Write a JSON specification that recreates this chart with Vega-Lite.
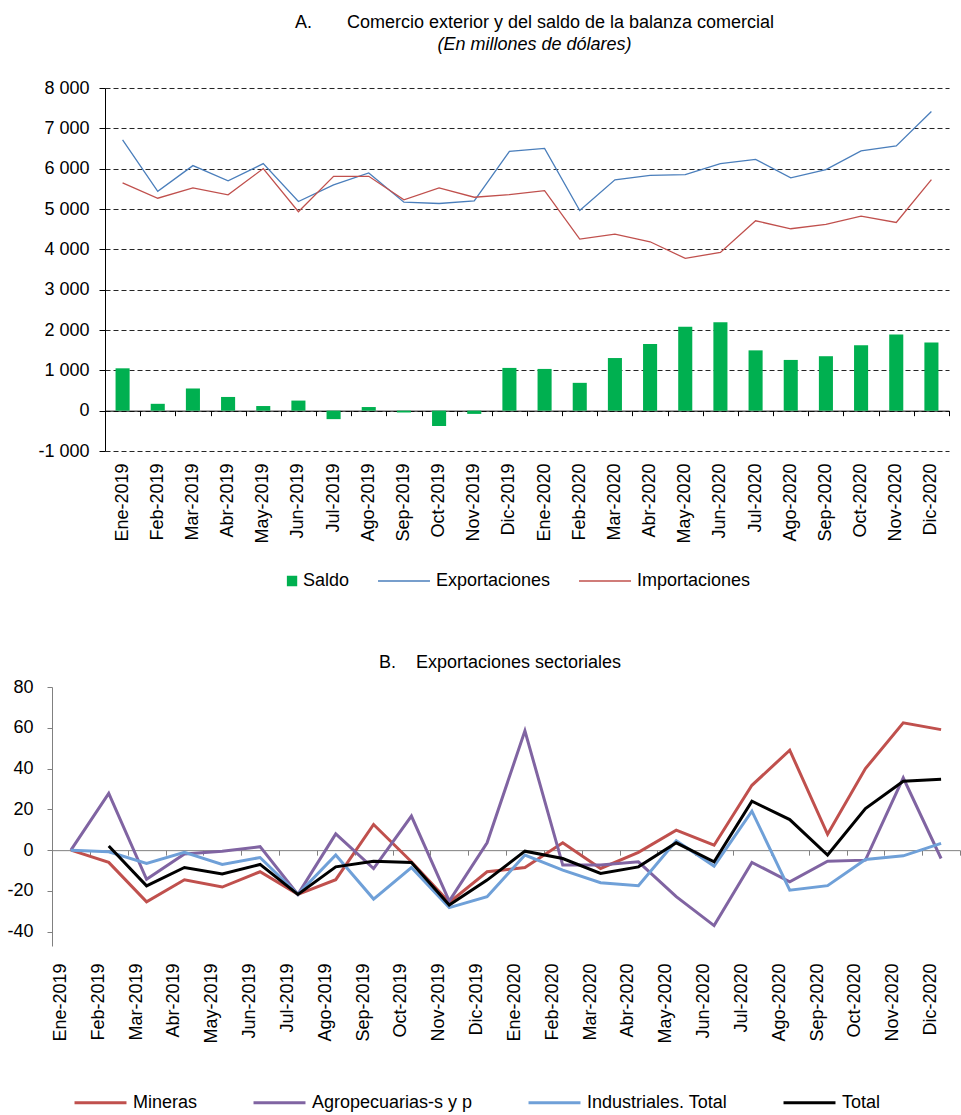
{
  "$schema": "https://vega.github.io/schema/vega-lite/v6.json",
  "padding": {"left": 0, "top": 14, "right": 0, "bottom": 0},
  "background": "white",
  "config": {
    "view": {"stroke": null},
    "font": "Liberation Sans",
    "axis": {"labelFont": "Liberation Sans", "labelFontSize": 18, "labelColor": "#000", "title": null},
    "legend": {"labelFont": "Liberation Sans", "labelFontSize": 18, "labelColor": "#000", "padding": 0, "labelLimit": 400},
    "title": {"font": "Liberation Sans", "fontSize": 18, "fontWeight": "normal", "color": "#000", "subtitleFont": "Liberation Sans", "subtitleFontSize": 18, "subtitleFontStyle": "italic", "subtitleColor": "#000", "anchor": "middle"}
  },
  "columns": 1,
  "spacing": 64,
  "resolve": {"scale": {"color": "independent"}, "legend": {"color": "independent"}},
  "datasets": {
    "saldo": [
      {"mes": "Ene-2019", "serie": "Saldo", "valor": 1050},
      {"mes": "Feb-2019", "serie": "Saldo", "valor": 170},
      {"mes": "Mar-2019", "serie": "Saldo", "valor": 550},
      {"mes": "Abr-2019", "serie": "Saldo", "valor": 340},
      {"mes": "May-2019", "serie": "Saldo", "valor": 115},
      {"mes": "Jun-2019", "serie": "Saldo", "valor": 250},
      {"mes": "Jul-2019", "serie": "Saldo", "valor": -210},
      {"mes": "Ago-2019", "serie": "Saldo", "valor": 90},
      {"mes": "Sep-2019", "serie": "Saldo", "valor": -45},
      {"mes": "Oct-2019", "serie": "Saldo", "valor": -380},
      {"mes": "Nov-2019", "serie": "Saldo", "valor": -80},
      {"mes": "Dic-2019", "serie": "Saldo", "valor": 1060},
      {"mes": "Ene-2020", "serie": "Saldo", "valor": 1035},
      {"mes": "Feb-2020", "serie": "Saldo", "valor": 690},
      {"mes": "Mar-2020", "serie": "Saldo", "valor": 1305},
      {"mes": "Abr-2020", "serie": "Saldo", "valor": 1650},
      {"mes": "May-2020", "serie": "Saldo", "valor": 2078},
      {"mes": "Jun-2020", "serie": "Saldo", "valor": 2190},
      {"mes": "Jul-2020", "serie": "Saldo", "valor": 1495},
      {"mes": "Ago-2020", "serie": "Saldo", "valor": 1258},
      {"mes": "Sep-2020", "serie": "Saldo", "valor": 1350},
      {"mes": "Oct-2020", "serie": "Saldo", "valor": 1625},
      {"mes": "Nov-2020", "serie": "Saldo", "valor": 1890},
      {"mes": "Dic-2020", "serie": "Saldo", "valor": 1690}
    ],
    "comercio": [
      {"mes": "Ene-2019", "serie": "Exportaciones", "valor": 6711},
      {"mes": "Feb-2019", "serie": "Exportaciones", "valor": 5440},
      {"mes": "Mar-2019", "serie": "Exportaciones", "valor": 6076},
      {"mes": "Abr-2019", "serie": "Exportaciones", "valor": 5697},
      {"mes": "May-2019", "serie": "Exportaciones", "valor": 6125},
      {"mes": "Jun-2019", "serie": "Exportaciones", "valor": 5186},
      {"mes": "Jul-2019", "serie": "Exportaciones", "valor": 5598},
      {"mes": "Ago-2019", "serie": "Exportaciones", "valor": 5895},
      {"mes": "Sep-2019", "serie": "Exportaciones", "valor": 5168},
      {"mes": "Oct-2019", "serie": "Exportaciones", "valor": 5136},
      {"mes": "Nov-2019", "serie": "Exportaciones", "valor": 5203},
      {"mes": "Dic-2019", "serie": "Exportaciones", "valor": 6430},
      {"mes": "Ene-2020", "serie": "Exportaciones", "valor": 6504},
      {"mes": "Feb-2020", "serie": "Exportaciones", "valor": 4963},
      {"mes": "Mar-2020", "serie": "Exportaciones", "valor": 5722},
      {"mes": "Abr-2020", "serie": "Exportaciones", "valor": 5836},
      {"mes": "May-2020", "serie": "Exportaciones", "valor": 5853},
      {"mes": "Jun-2020", "serie": "Exportaciones", "valor": 6125},
      {"mes": "Jul-2020", "serie": "Exportaciones", "valor": 6231},
      {"mes": "Ago-2020", "serie": "Exportaciones", "valor": 5771},
      {"mes": "Sep-2020", "serie": "Exportaciones", "valor": 5977},
      {"mes": "Oct-2020", "serie": "Exportaciones", "valor": 6439},
      {"mes": "Nov-2020", "serie": "Exportaciones", "valor": 6563},
      {"mes": "Dic-2020", "serie": "Exportaciones", "valor": 7418},
      {"mes": "Ene-2019", "serie": "Importaciones", "valor": 5648},
      {"mes": "Feb-2019", "serie": "Importaciones", "valor": 5267},
      {"mes": "Mar-2019", "serie": "Importaciones", "valor": 5524},
      {"mes": "Abr-2019", "serie": "Importaciones", "valor": 5351},
      {"mes": "May-2019", "serie": "Importaciones", "valor": 6002},
      {"mes": "Jun-2019", "serie": "Importaciones", "valor": 4931},
      {"mes": "Jul-2019", "serie": "Importaciones", "valor": 5811},
      {"mes": "Ago-2019", "serie": "Importaciones", "valor": 5811},
      {"mes": "Sep-2019", "serie": "Importaciones", "valor": 5227},
      {"mes": "Oct-2019", "serie": "Importaciones", "valor": 5524},
      {"mes": "Nov-2019", "serie": "Importaciones", "valor": 5292},
      {"mes": "Dic-2019", "serie": "Importaciones", "valor": 5358},
      {"mes": "Ene-2020", "serie": "Importaciones", "valor": 5457},
      {"mes": "Feb-2020", "serie": "Importaciones", "valor": 4253},
      {"mes": "Mar-2020", "serie": "Importaciones", "valor": 4377},
      {"mes": "Abr-2020", "serie": "Importaciones", "valor": 4188},
      {"mes": "May-2020", "serie": "Importaciones", "valor": 3776},
      {"mes": "Jun-2020", "serie": "Importaciones", "valor": 3924},
      {"mes": "Jul-2020", "serie": "Importaciones", "valor": 4708},
      {"mes": "Ago-2020", "serie": "Importaciones", "valor": 4510},
      {"mes": "Sep-2020", "serie": "Importaciones", "valor": 4617},
      {"mes": "Oct-2020", "serie": "Importaciones", "valor": 4822},
      {"mes": "Nov-2020", "serie": "Importaciones", "valor": 4666},
      {"mes": "Dic-2020", "serie": "Importaciones", "valor": 5729}
    ],
    "sectores": [
      {"mes": "Ene-2019", "serie": "Mineras", "valor": 0},
      {"mes": "Feb-2019", "serie": "Mineras", "valor": -6.0},
      {"mes": "Mar-2019", "serie": "Mineras", "valor": -25.3},
      {"mes": "Abr-2019", "serie": "Mineras", "valor": -14.5},
      {"mes": "May-2019", "serie": "Mineras", "valor": -18.1},
      {"mes": "Jun-2019", "serie": "Mineras", "valor": -10.6},
      {"mes": "Jul-2019", "serie": "Mineras", "valor": -21.7},
      {"mes": "Ago-2019", "serie": "Mineras", "valor": -14.5},
      {"mes": "Sep-2019", "serie": "Mineras", "valor": 12.6},
      {"mes": "Oct-2019", "serie": "Mineras", "valor": -5.7},
      {"mes": "Nov-2019", "serie": "Mineras", "valor": -25.6},
      {"mes": "Dic-2019", "serie": "Mineras", "valor": -10.6},
      {"mes": "Ene-2020", "serie": "Mineras", "valor": -8.5},
      {"mes": "Feb-2020", "serie": "Mineras", "valor": 3.6},
      {"mes": "Mar-2020", "serie": "Mineras", "valor": -9.0},
      {"mes": "Abr-2020", "serie": "Mineras", "valor": -1.1},
      {"mes": "May-2020", "serie": "Mineras", "valor": 9.8},
      {"mes": "Jun-2020", "serie": "Mineras", "valor": 2.4},
      {"mes": "Jul-2020", "serie": "Mineras", "valor": 31.8},
      {"mes": "Ago-2020", "serie": "Mineras", "valor": 49.0},
      {"mes": "Sep-2020", "serie": "Mineras", "valor": 7.8},
      {"mes": "Oct-2020", "serie": "Mineras", "valor": 40.0},
      {"mes": "Nov-2020", "serie": "Mineras", "valor": 62.4},
      {"mes": "Dic-2020", "serie": "Mineras", "valor": 59.1},
      {"mes": "Ene-2019", "serie": "Agropecuarias-s y p", "valor": 0},
      {"mes": "Feb-2019", "serie": "Agropecuarias-s y p", "valor": 27.8},
      {"mes": "Mar-2019", "serie": "Agropecuarias-s y p", "valor": -14.3},
      {"mes": "Abr-2019", "serie": "Agropecuarias-s y p", "valor": -1.9},
      {"mes": "May-2019", "serie": "Agropecuarias-s y p", "valor": -0.5},
      {"mes": "Jun-2019", "serie": "Agropecuarias-s y p", "valor": 1.7},
      {"mes": "Jul-2019", "serie": "Agropecuarias-s y p", "valor": -21.7},
      {"mes": "Ago-2019", "serie": "Agropecuarias-s y p", "valor": 8.0},
      {"mes": "Sep-2019", "serie": "Agropecuarias-s y p", "valor": -9.0},
      {"mes": "Oct-2019", "serie": "Agropecuarias-s y p", "valor": 16.7},
      {"mes": "Nov-2019", "serie": "Agropecuarias-s y p", "valor": -25.0},
      {"mes": "Dic-2019", "serie": "Agropecuarias-s y p", "valor": 3.6},
      {"mes": "Ene-2020", "serie": "Agropecuarias-s y p", "valor": 58.5},
      {"mes": "Feb-2020", "serie": "Agropecuarias-s y p", "valor": -7.3},
      {"mes": "Mar-2020", "serie": "Agropecuarias-s y p", "valor": -7.3},
      {"mes": "Abr-2020", "serie": "Agropecuarias-s y p", "valor": -5.7},
      {"mes": "May-2020", "serie": "Agropecuarias-s y p", "valor": -22.8},
      {"mes": "Jun-2020", "serie": "Agropecuarias-s y p", "valor": -37.0},
      {"mes": "Jul-2020", "serie": "Agropecuarias-s y p", "valor": -6.0},
      {"mes": "Ago-2020", "serie": "Agropecuarias-s y p", "valor": -15.5},
      {"mes": "Sep-2020", "serie": "Agropecuarias-s y p", "valor": -5.4},
      {"mes": "Oct-2020", "serie": "Agropecuarias-s y p", "valor": -4.9},
      {"mes": "Nov-2020", "serie": "Agropecuarias-s y p", "valor": 35.5},
      {"mes": "Dic-2020", "serie": "Agropecuarias-s y p", "valor": -4.1},
      {"mes": "Ene-2019", "serie": "Industriales. Total", "valor": 0},
      {"mes": "Feb-2019", "serie": "Industriales. Total", "valor": -0.8},
      {"mes": "Mar-2019", "serie": "Industriales. Total", "valor": -6.5},
      {"mes": "Abr-2019", "serie": "Industriales. Total", "valor": -1.1},
      {"mes": "May-2019", "serie": "Industriales. Total", "valor": -7.0},
      {"mes": "Jun-2019", "serie": "Industriales. Total", "valor": -3.6},
      {"mes": "Jul-2019", "serie": "Industriales. Total", "valor": -21.7},
      {"mes": "Ago-2019", "serie": "Industriales. Total", "valor": -2.4},
      {"mes": "Sep-2019", "serie": "Industriales. Total", "valor": -24.0},
      {"mes": "Oct-2019", "serie": "Industriales. Total", "valor": -8.5},
      {"mes": "Nov-2019", "serie": "Industriales. Total", "valor": -28.2},
      {"mes": "Dic-2019", "serie": "Industriales. Total", "valor": -22.8},
      {"mes": "Ene-2020", "serie": "Industriales. Total", "valor": -2.4},
      {"mes": "Feb-2020", "serie": "Industriales. Total", "valor": -9.8},
      {"mes": "Mar-2020", "serie": "Industriales. Total", "valor": -16.0},
      {"mes": "Abr-2020", "serie": "Industriales. Total", "valor": -17.4},
      {"mes": "May-2020", "serie": "Industriales. Total", "valor": 4.6},
      {"mes": "Jun-2020", "serie": "Industriales. Total", "valor": -7.8},
      {"mes": "Jul-2020", "serie": "Industriales. Total", "valor": 19.1},
      {"mes": "Ago-2020", "serie": "Industriales. Total", "valor": -19.6},
      {"mes": "Sep-2020", "serie": "Industriales. Total", "valor": -17.4},
      {"mes": "Oct-2020", "serie": "Industriales. Total", "valor": -4.6},
      {"mes": "Nov-2020", "serie": "Industriales. Total", "valor": -2.8},
      {"mes": "Dic-2020", "serie": "Industriales. Total", "valor": 3.3}
    ],
    "total": [
      {"mes": "Feb-2019", "serie": "Total", "valor": 2.0},
      {"mes": "Mar-2019", "serie": "Total", "valor": -17.5},
      {"mes": "Abr-2019", "serie": "Total", "valor": -8.5},
      {"mes": "May-2019", "serie": "Total", "valor": -11.7},
      {"mes": "Jun-2019", "serie": "Total", "valor": -7.0},
      {"mes": "Jul-2019", "serie": "Total", "valor": -21.7},
      {"mes": "Ago-2019", "serie": "Total", "valor": -8.2},
      {"mes": "Sep-2019", "serie": "Total", "valor": -5.5},
      {"mes": "Oct-2019", "serie": "Total", "valor": -6.0},
      {"mes": "Nov-2019", "serie": "Total", "valor": -26.9},
      {"mes": "Dic-2019", "serie": "Total", "valor": -14.7},
      {"mes": "Ene-2020", "serie": "Total", "valor": -0.5},
      {"mes": "Feb-2020", "serie": "Total", "valor": -4.1},
      {"mes": "Mar-2020", "serie": "Total", "valor": -11.4},
      {"mes": "Abr-2020", "serie": "Total", "valor": -8.2},
      {"mes": "May-2020", "serie": "Total", "valor": 3.6},
      {"mes": "Jun-2020", "serie": "Total", "valor": -5.7},
      {"mes": "Jul-2020", "serie": "Total", "valor": 24.0},
      {"mes": "Ago-2020", "serie": "Total", "valor": 15.0},
      {"mes": "Sep-2020", "serie": "Total", "valor": -2.4},
      {"mes": "Oct-2020", "serie": "Total", "valor": 20.4},
      {"mes": "Nov-2020", "serie": "Total", "valor": 33.8},
      {"mes": "Dic-2020", "serie": "Total", "valor": 34.8}
    ]
  },
  "concat": [
    {
      "width": 897,
      "height": 363,
      "title": {
        "text": "A.\u00a0\u00a0\u00a0\u00a0\u00a0\u00a0\u00a0Comercio exterior y del saldo de la balanza comercial",
        "subtitle": "(En millones de dólares)",
        "subtitlePadding": 4,
        "offset": 25,
        "dx": 34
      },
      "resolve": {"axis": {"x": "independent"}},
      "layer": [
        {
          "data": {"name": "saldo"},
          "mark": {"type": "bar", "width": {"band": 0.4}},
          "encoding": {
            "x": {
              "field": "mes", "type": "ordinal",
              "scale": {"domain": ["Ene-2019","Feb-2019","Mar-2019","Abr-2019","May-2019","Jun-2019","Jul-2019","Ago-2019","Sep-2019","Oct-2019","Nov-2019","Dic-2019","Ene-2020","Feb-2020","Mar-2020","Abr-2020","May-2020","Jun-2020","Jul-2020","Ago-2020","Sep-2020","Oct-2020","Nov-2020","Dic-2020"], "paddingInner": 0, "paddingOuter": 0, "range": [53, 897]},
              "axis": {"labelAngle": -90, "ticks": false, "domain": false, "labelPadding": 12, "grid": false}
            },
            "y": {
              "field": "valor", "type": "quantitative",
              "scale": {"domain": [-1000, 8000], "nice": false},
              "axis": {
                "values": [-1000, 0, 1000, 2000, 3000, 4000, 5000, 6000, 7000, 8000],
                "grid": true, "gridDash": [5, 3], "gridColor": "#000", "gridWidth": 1, "gridOpacity": 0.85,
                "domainColor": "#000", "tickColor": "#000", "tickSize": 6, "labelPadding": 10, "offset": -53,
                "labelExpr": "(datum.value < 0 ? '-' : '') + replace(format(abs(datum.value), ','), ',', ' ')"
              }
            },
            "color": {
              "field": "serie", "type": "nominal",
              "scale": {"domain": ["Saldo", "Exportaciones", "Importaciones"], "range": ["#00B050", "#4A7EBB", "#C0504D"]},
              "legend": {
                "title": null, "orient": "none", "direction": "horizontal",
                "legendX": 192, "legendY": 466,
                "symbolType": "stroke", "symbolSize": 2700, "symbolStrokeWidth": 1.5,
                "labelOffset": 5, "columnPadding": 25,
                "encode": {"symbols": {"update": {
                  "size": {"value": 2700},
                  "strokeWidth": {"value": 1.5},
                  "shape": {"signal": "datum.value === 'Saldo' ? 'M 0.64 -0.17 L 0.98 -0.17 L 0.98 0.17 L 0.64 0.17 Z' : 'stroke'"},
                  "fill": {"signal": "datum.value === 'Saldo' ? '#00B050' : 'transparent'"}
                }}}
              }
            }
          }
        },
        {
          "data": {"name": "comercio"},
          "mark": {"type": "line", "strokeWidth": 1.3},
          "encoding": {
            "x": {
              "field": "mes", "type": "ordinal",
              "axis": {"orient": "bottom", "labels": false, "domain": true, "ticks": true, "tickBand": "extent", "tickSize": 5, "domainColor": "#000", "tickColor": "#000", "offset": -40.33, "grid": false}
            },
            "y": {"field": "valor", "type": "quantitative"},
            "color": {"field": "serie", "type": "nominal"}
          }
        }
      ]
    },
    {
      "width": 908,
      "height": 259,
      "title": {
        "text": "B.\u00a0\u00a0\u00a0\u00a0Exportaciones sectoriales",
        "offset": 6,
        "dx": -6
      },
      "resolve": {"axis": {"x": "independent"}},
      "layer": [
        {
          "data": {"name": "sectores"},
          "mark": {"type": "line", "strokeWidth": 3},
          "encoding": {
            "x": {
              "field": "mes", "type": "ordinal",
              "scale": {"domain": ["Ene-2019","Feb-2019","Mar-2019","Abr-2019","May-2019","Jun-2019","Jul-2019","Ago-2019","Sep-2019","Oct-2019","Nov-2019","Dic-2019","Ene-2020","Feb-2020","Mar-2020","Abr-2020","May-2020","Jun-2020","Jul-2020","Ago-2020","Sep-2020","Oct-2020","Nov-2020","Dic-2020"], "paddingInner": 0, "paddingOuter": 0},
              "axis": {"labelAngle": -90, "ticks": false, "domain": false, "labelPadding": 17, "labelOffset": -10, "grid": false}
            },
            "y": {
              "field": "valor", "type": "quantitative",
              "scale": {"domain": [-47, 80], "nice": false},
              "axis": {
                "values": [-40, -20, 0, 20, 40, 60, 80],
                "grid": false, "domainColor": "#808080", "tickColor": "#808080", "tickSize": 5, "labelPadding": 14, "minExtent": 52,
                "labelExpr": "datum.value < 0 ? '-' + abs(datum.value) : '' + datum.value"
              }
            },
            "color": {
              "field": "serie", "type": "nominal",
              "scale": {"domain": ["Mineras", "Agropecuarias-s y p", "Industriales. Total", "Total"], "range": ["#C0504D", "#8064A2", "#6FA0D8", "#000000"]},
              "legend": {
                "title": null, "orient": "none", "direction": "horizontal",
                "legendX": 21, "legendY": 388,
                "symbolType": "stroke", "symbolSize": 2700, "symbolStrokeWidth": 3,
                "labelOffset": 5, "columnPadding": 49,
                "encode": {"symbols": {"update": {"size": {"value": 2700}, "strokeWidth": {"value": 3}}}}
              }
            }
          }
        },
        {
          "data": {"name": "total"},
          "mark": {"type": "line", "strokeWidth": 3},
          "encoding": {
            "x": {
              "field": "mes", "type": "ordinal",
              "axis": {"orient": "bottom", "labels": false, "domain": true, "ticks": true, "tickBand": "extent", "tickSize": 5, "domainColor": "#808080", "tickColor": "#808080", "offset": -95.85, "grid": false}
            },
            "y": {"field": "valor", "type": "quantitative"},
            "color": {"field": "serie", "type": "nominal"}
          }
        }
      ]
    }
  ]
}
